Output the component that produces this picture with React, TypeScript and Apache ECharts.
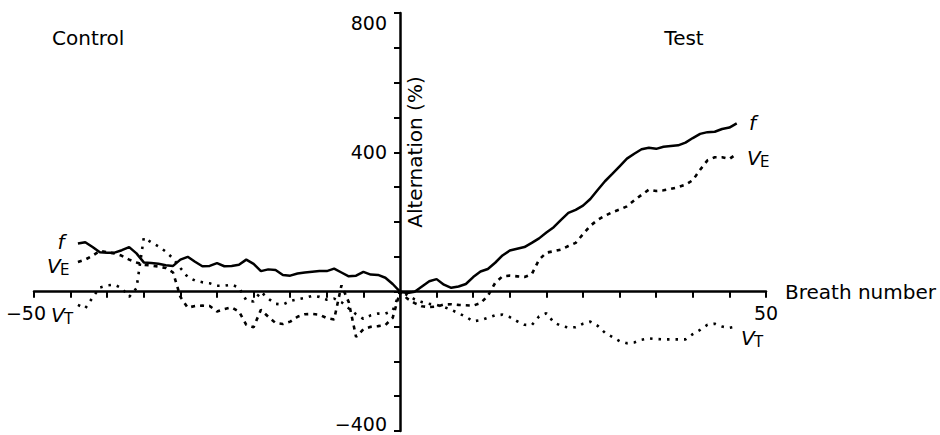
import React, { useEffect, useRef } from "react";
import * as echarts from "echarts";

const breaths = [
  -44, -43, -42, -41, -40, -39, -38, -37, -36, -35, -34, -33, -32, -31, -30,
  -29, -28, -27, -26, -25, -24, -23, -22, -21, -20, -19, -18, -17, -16, -15,
  -14, -13, -12, -11, -10, -9, -8, -7, -6, -5, -4, -3, -2, -1, 0,
  1, 2, 3, 4, 5, 6, 7, 8, 9, 10, 11, 12, 13, 14, 15, 16, 17, 18, 19, 20,
  21, 22, 23, 24, 25, 26, 27, 28, 29, 30, 31, 32, 33, 34, 35, 36, 37, 38, 39, 40,
  41, 42, 43, 44, 45, 46,
];

const fValues = [
  138, 142, 128, 113, 112, 112, 119, 128, 110, 84, 82, 80, 76, 74, 92,
  100, 86, 73, 74, 82, 73, 74, 77, 92, 80, 59, 64, 62, 48, 46,
  52, 55, 57, 59, 59, 66, 55, 44, 46, 57, 49, 48, 40, 22, 0,
  -4, 0, 15, 30, 36, 20, 11, 15, 22, 42, 58, 65, 83, 104, 118, 123, 128, 140, 153, 170,
  185, 206, 226, 235, 247, 266, 292, 317, 338, 360, 382, 396, 409, 413, 410, 416, 418, 420, 428, 441,
  453, 458, 459, 467, 471, 483,
];

const veValues = [
  85, 92, 103, 117, 113, 110, 103, 92, 84, 77, 75, 72, 68, 55, -15,
  -46, -41, -40, -41, -57, -50, -45, -57, -95, -102, -52, -72, -90, -93, -86,
  -72, -65, -64, -66, -76, -80, 18, -30, -130, -108, -101, -99, -96, -75, 0,
  -20, -33, -42, -44, -43, -37, -36, -38, -39, -40, -33, -12, 25, 44, 46, 44, 42, 50, 92, 112,
  116, 121, 131, 140, 165, 189, 206, 218, 228, 236, 245, 262, 278, 293, 289, 291, 295, 300, 307, 320,
  350, 377, 386, 386, 381, 396,
];

const vtValues = [
  -38, -48, -17, 12, 18, 20, 10, -15, 10, 155, 142, 130, 115, 95, 68,
  42, 32, 27, 24, 17, 17, 20, 12, -25, -28, 0, -20, -35, -37, -27,
  -22, -18, -12, -15, -23, -20, -30, -48, -65, -78, -68, -63, -63, -55, 0,
  -10, -22, -30, -35, -38, -44, -52, -62, -72, -85, -82, -75, -68, -66, -73, -85, -95, -96, -71, -62,
  -88, -98, -103, -102, -92, -86, -98, -118, -130, -142, -148, -146, -138, -134, -136, -137, -137, -137, -137, -122,
  -110, -95, -92, -100, -104, -100,
];

const yLabels = [800, 400, -400];
const xLabels = [-50, 50];

const X_MIN = -50;
const X_MAX = 50;
const Y_MIN = -400;
const Y_MAX = 800;

const W = 940;
const H = 435;
const GRID = { left: 34, right: 174, top: 13, bottom: 4 };

const FONT = '"DejaVu Sans", "Liberation Sans", Arial, sans-serif';

function pairs(vals: number[]) {
  return breaths.map((b, i) => [b, vals[i]]);
}

function txt(text: string, x: number, y: number, size: number, opts: any = {}) {
  return {
    type: "text",
    x,
    y,
    rotation: opts.rotation || 0,
    style: {
      text,
      fill: "#000",
      font: `${opts.italic ? "italic " : ""}${size}px ${FONT}`,
      align: opts.align || "left",
      verticalAlign: "middle",
    },
  };
}

function subLabel(main: string, sub: string, x: number, y: number) {
  return [
    txt(main, x, y, 20, { italic: true }),
    txt(sub, x + 13, y + 4, 15),
  ];
}

export default function App() {
  const ref = useRef<HTMLDivElement>(null);
  useEffect(() => {
    if (!ref.current) return;
    const chart = echarts.init(ref.current, undefined, { renderer: "svg" });
    const gw = W - GRID.left - GRID.right;
    const gh = H - GRID.top - GRID.bottom;
    // place axes through the origin using offsets
    const xOffset = -(gh * (0 - Y_MIN)) / (Y_MAX - Y_MIN);
    const yOffset = -(gw * (0 - X_MIN)) / (X_MAX - X_MIN);
    const option: any = {
      animation: false,
      grid: { ...GRID, containLabel: false, outerBoundsMode: "none" },
      xAxis: {
        type: "value",
        min: X_MIN,
        max: X_MAX,
        interval: 5,
        position: "bottom",
        offset: xOffset,
        splitLine: { show: false },
        axisLine: { show: true, onZero: false, lineStyle: { color: "#000", width: 2.5 } },
        axisTick: { show: true, length: 6, lineStyle: { color: "#000", width: 2 } },
        axisLabel: {
          margin: 12,
          color: "#000",
          fontSize: 19,
          fontFamily: FONT,
          hideOverlap: false,
          showMinLabel: true,
          showMaxLabel: true,
          formatter: (v: number) => {
            if (!xLabels.includes(v)) return "";
            if (v < 0) return "{m|\u2212" + Math.abs(v) + "}";
            return String(v);
          },
          rich: {
            m: { fontSize: 19, fontFamily: FONT, color: "#000", padding: [0, 16, 0, 0] },
          },
        },
        name: "Breath number",
        nameLocation: "end",
        nameGap: 19,
        nameTextStyle: { color: "#000", fontSize: 20, fontFamily: FONT, verticalAlign: "middle" },
      },
      yAxis: {
        type: "value",
        min: Y_MIN,
        max: Y_MAX,
        interval: 100,
        position: "left",
        offset: yOffset,
        splitLine: { show: false },
        axisLine: { show: true, onZero: false, lineStyle: { color: "#000", width: 2.5 } },
        axisTick: { show: true, length: 6, lineStyle: { color: "#000", width: 2 } },
        axisLabel: {
          margin: 13,
          color: "#000",
          fontSize: 19,
          fontFamily: FONT,
          showMinLabel: true,
          showMaxLabel: true,
          formatter: (v: number) => {
            if (!yLabels.includes(v)) return "";
            if (v === 800) return "{t|800}";
            if (v < 0) return "{b|\u2212" + Math.abs(v) + "}";
            return String(v);
          },
          rich: {
            t: { fontSize: 19, fontFamily: FONT, color: "#000", padding: [20, 0, 0, 0] },
            b: { fontSize: 19, fontFamily: FONT, color: "#000", padding: [0, 0, 14, 0] },
          },
        },
      },
      series: [
        {
          name: "f",
          type: "line",
          data: pairs(fValues),
          symbol: "none",
          lineStyle: { color: "#000", width: 2.5, type: "solid" },
          z: 3,
        },
        {
          name: "VE",
          type: "line",
          data: pairs(veValues),
          symbol: "none",
          lineStyle: { color: "#000", width: 2.6, type: [4, 5] },
          z: 2,
        },
        {
          name: "VT",
          type: "line",
          data: pairs(vtValues),
          symbol: "none",
          lineStyle: { color: "#000", width: 2.6, type: [2.5, 6] },
          z: 2,
        },
      ],
      graphic: [
        txt("Control", 52, 38, 20),
        txt("Test", 684, 38, 20, { align: "center" }),
        txt("Alternation (%)", 415, 152, 20, { align: "center", rotation: Math.PI / 2 }),
        txt("f", 61, 242, 20, { italic: true, align: "center" }),
        txt("f", 749, 123, 20, { italic: true }),
        ...subLabel("V", "E", 47, 266),
        ...subLabel("V", "E", 747, 158),
        ...subLabel("V", "T", 51, 315),
        ...subLabel("V", "T", 741, 338),
      ],
    };
    chart.setOption(option);
    return () => chart.dispose();
  }, []);
  return (
    <div
      ref={ref}
      style={{ position: "fixed", left: 0, top: 0, width: W, height: H, background: "#fff" }}
    />
  );
}
